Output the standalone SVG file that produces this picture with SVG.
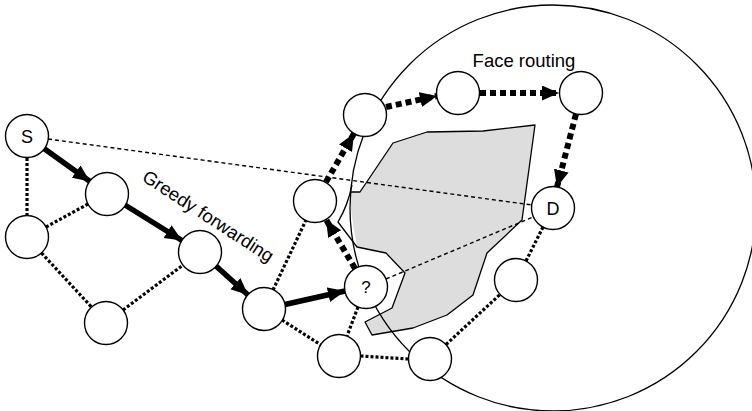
<svg xmlns="http://www.w3.org/2000/svg" width="752" height="411" viewBox="0 0 752 411">
  <style>
    .node { fill: #ffffff; stroke: #000000; stroke-width: 1.4; }
    .label { font-family: "Liberation Sans", Arial, sans-serif; fill: #000000; }
    .dotted { fill: none; stroke: #000000; stroke-width: 3.2; stroke-dasharray: 3 2; }
    .thin-dash { fill: none; stroke: #000000; stroke-width: 1.4; stroke-dasharray: 4 3; }
    .greedy { fill: none; stroke: #000000; stroke-width: 5.5; marker-end: url(#head); }
    .face { fill: none; stroke: #000000; stroke-width: 6; stroke-dasharray: 6 4; marker-end: url(#head); }
  </style>
  <defs>
    <marker id="head" markerUnits="userSpaceOnUse" markerWidth="18" markerHeight="16" refX="17" refY="7.5" orient="auto">
      <path d="M0,0 L17,7.5 L0,15 z" fill="#000000"/>
    </marker>
  </defs>

  <rect width="752" height="411" fill="#ffffff"/>

  <!-- void region -->
  <g id="void">
    <polygon points="351,192 360,192 393,143 427,132 483,131 535,125 522,220 487,253 473,295 447,315 413,328 372,335 365,322 392,308 405,273 386,253 357,247 354,230 351,210" fill="#dddddd"/>
    <path d="M352,185 Q348,205 338,222 L357,247 L386,253 L405,273 L392,308 L365,322 L372,335 L413,328 L447,315 L473,295 L487,253 L522,220 L535,125 L483,131 L427,132 L393,143 L360,192 L351,192" fill="none" stroke="#000000" stroke-width="1.3" stroke-linejoin="round"/>
  </g>

  <!-- circle around D through the local minimum -->
  <circle id="range" cx="553" cy="208" r="203" fill="none" stroke="#000000" stroke-width="1.3"/>

  <g id="connectors">
    <!-- straight lines toward D -->
    <line class="thin-dash" x1="48" y1="139" x2="532" y2="205"/>
    <line class="thin-dash" x1="386" y1="279" x2="533" y2="217"/>

    <!-- graph edges -->
    <line class="dotted" x1="27" y1="158" x2="27" y2="215"/>
    <line class="dotted" x1="46" y1="227" x2="88" y2="204"/>
    <line class="dotted" x1="41.5" y1="253" x2="91.5" y2="307"/>
    <line class="dotted" x1="123" y1="310" x2="183" y2="265"/>
    <line class="dotted" x1="273" y1="290" x2="306" y2="220"/>
    <line class="dotted" x1="282" y1="320" x2="321" y2="345"/>
    <line class="dotted" x1="358" y1="307" x2="347" y2="336"/>
    <line class="dotted" x1="360.5" y1="356" x2="408.5" y2="359"/>
    <line class="dotted" x1="446" y1="344.5" x2="500" y2="294.5"/>
    <line class="dotted" x1="526" y1="261" x2="543" y2="227"/>

    <!-- greedy forwarding -->
    <line class="greedy" x1="44" y1="148.5" x2="90" y2="181.5"/>
    <line class="greedy" x1="125" y1="205" x2="182" y2="240.5"/>
    <line class="greedy" x1="216" y1="266" x2="248" y2="295"/>
    <line class="greedy" x1="285" y1="304.5" x2="345" y2="291"/>

    <!-- face routing -->
    <line class="face" x1="355" y1="268.5" x2="326" y2="219.5"/>
    <line class="face" x1="326" y1="182" x2="354" y2="133.5"/>
    <line class="face" x1="386" y1="107" x2="437" y2="96"/>
    <line class="face" x1="480" y1="93" x2="559" y2="93"/>
    <line class="face" x1="576" y1="114" x2="557" y2="187"/>
  </g>

  <g id="node-S"><circle class="node" cx="27" cy="136" r="21.5"/><text class="label" x="27" y="142.5" font-size="18" text-anchor="middle">S</text></g>
  <g id="node-a"><circle class="node" cx="107" cy="194" r="21.5"/></g>
  <g id="node-b"><circle class="node" cx="27" cy="237" r="21.5"/></g>
  <g id="node-c"><circle class="node" cx="106" cy="323" r="21.5"/></g>
  <g id="node-e"><circle class="node" cx="200" cy="252" r="21.5"/></g>
  <g id="node-f"><circle class="node" cx="264" cy="309" r="21.5"/></g>
  <g id="node-q"><circle class="node" cx="366" cy="287" r="21.5"/><text class="label" x="366" y="293" font-size="17" text-anchor="middle">?</text></g>
  <g id="node-g"><circle class="node" cx="315" cy="201" r="21.5"/></g>
  <g id="node-h"><circle class="node" cx="365" cy="115" r="21.5"/></g>
  <g id="node-i"><circle class="node" cx="458" cy="93" r="21.5"/></g>
  <g id="node-j"><circle class="node" cx="581" cy="93" r="21.5"/></g>
  <g id="node-D"><circle class="node" cx="553" cy="208" r="21.5"/><text class="label" x="553" y="214.5" font-size="18" text-anchor="middle">D</text></g>
  <g id="node-k"><circle class="node" cx="516" cy="280" r="21.5"/></g>
  <g id="node-l"><circle class="node" cx="430" cy="359" r="21.5"/></g>
  <g id="node-m"><circle class="node" cx="339" cy="356" r="21.5"/></g>

  <g id="captions">
    <text class="label" x="141" y="180" font-size="18.5" transform="rotate(33 141 180)">Greedy forwarding</text>
    <text class="label" x="524" y="66.5" font-size="18.5" text-anchor="middle">Face routing</text>
  </g>
</svg>
